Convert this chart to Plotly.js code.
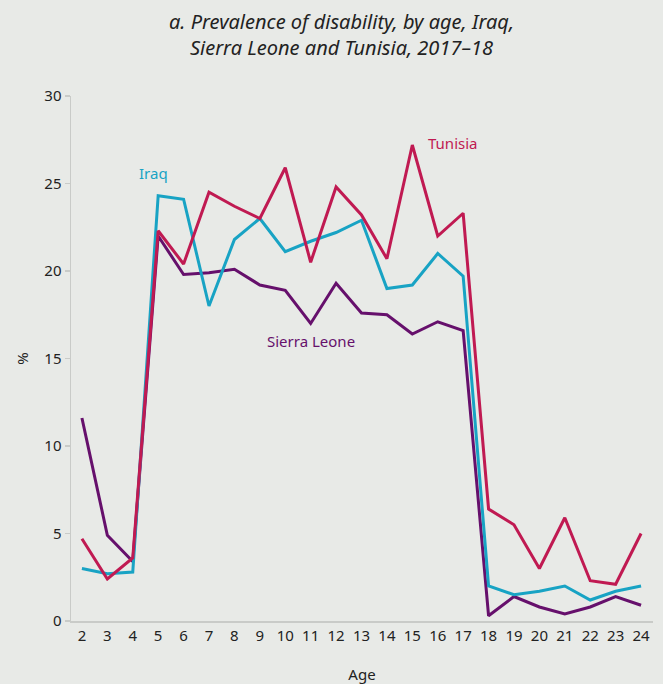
<!DOCTYPE html>
<html>
<head>
<meta charset="utf-8">
<script src="https://cdn.plot.ly/plotly-3.0.1.min.js"></script>
<style>html,body{margin:0;padding:0;background:#e8eae7;}#chart{width:663px;height:684px;}</style>
</head>
<body>
<div id="chart"></div>
<script>
const ages = [2,3,4,5,6,7,8,9,10,11,12,13,14,15,16,17,18,19,20,21,22,23,24];
const iraq = [3.0,2.7,2.8,24.3,24.1,18.0,21.8,23.0,21.1,21.7,22.2,22.9,19.0,19.2,21.0,19.7,2.0,1.5,1.7,2.0,1.2,1.7,2.0];
const tunisia = [4.7,2.4,3.6,22.3,20.4,24.5,23.7,23.0,25.9,20.5,24.8,23.2,20.7,27.2,22.0,23.3,6.4,5.5,3.0,5.9,2.3,2.1,5.0];
const sierraLeone = [11.6,4.9,3.4,22.0,19.8,19.9,20.1,19.2,18.9,17.0,19.3,17.6,17.5,16.4,17.1,16.6,0.3,1.4,0.8,0.4,0.8,1.4,0.9];
const yTicks = [0,5,10,15,20,25,30];

const cTeal = 'rgb(24,163,196)';
const cRed = 'rgb(192,26,82)';
const cPurple = 'rgb(102,16,108)';
const font = 'Noto Sans, Open Sans, sans-serif';

const traces = [
  {x: ages, y: sierraLeone, name: 'Sierra Leone', mode: 'lines', line: {color: cPurple, width: 3}},
  {x: ages, y: iraq, name: 'Iraq', mode: 'lines', line: {color: cTeal, width: 3}},
  {x: ages, y: tunisia, name: 'Tunisia', mode: 'lines', line: {color: cRed, width: 3}}
];

const layout = {
  width: 663, height: 684,
  paper_bgcolor: '#e8eae7', plot_bgcolor: '#e8eae7',
  margin: {l: 71, r: 10, t: 96, b: 63},
  showlegend: false,
  font: {family: font, size: 15, color: '#222'},
  xaxis: {
    range: [1.57, 24.47], tickmode: 'array', tickvals: ages, ticktext: ages.map(String),
    showgrid: false, zeroline: false, showline: true, linecolor: '#c9cbc8', linewidth: 1.5,
    ticks: '', ticklen: 0, tickfont: {size: 15, color: '#222'},
    title: {text: 'Age', font: {size: 15, color: '#222'}, standoff: 26}
  },
  yaxis: {
    range: [0, 30], tickmode: 'array', tickvals: yTicks,
    showgrid: false, zeroline: false, showline: true, linecolor: '#c9cbc8', linewidth: 1.5,
    ticks: 'outside', ticklen: 5, tickcolor: '#c9cbc8', tickwidth: 1.5,
    tickfont: {size: 15, color: '#222'},
    title: {text: '%', font: {size: 15, color: '#222'}, standoff: 12}
  },
  annotations: [
    {x: 0.465, y: 1.172, xref: 'paper', yref: 'paper', xanchor: 'center', yanchor: 'top', showarrow: false,
     text: '<i>a. Prevalence of disability, by age, Iraq,</i><br><i>Sierra Leone and Tunisia, 2017–18</i>',
     font: {family: font, size: 20, color: '#222'}},
    {x: 4.8, y: 25.6, xref: 'x', yref: 'y', text: 'Iraq', showarrow: false, font: {color: cTeal, size: 15}},
    {x: 16.6, y: 27.3, xref: 'x', yref: 'y', text: 'Tunisia', showarrow: false, font: {color: cRed, size: 15}},
    {x: 11.0, y: 16.0, xref: 'x', yref: 'y', text: 'Sierra Leone', showarrow: false, font: {color: cPurple, size: 15}}
  ]
};

Plotly.newPlot('chart', traces, layout, {displayModeBar: false, staticPlot: true});
</script>
</body>
</html>
